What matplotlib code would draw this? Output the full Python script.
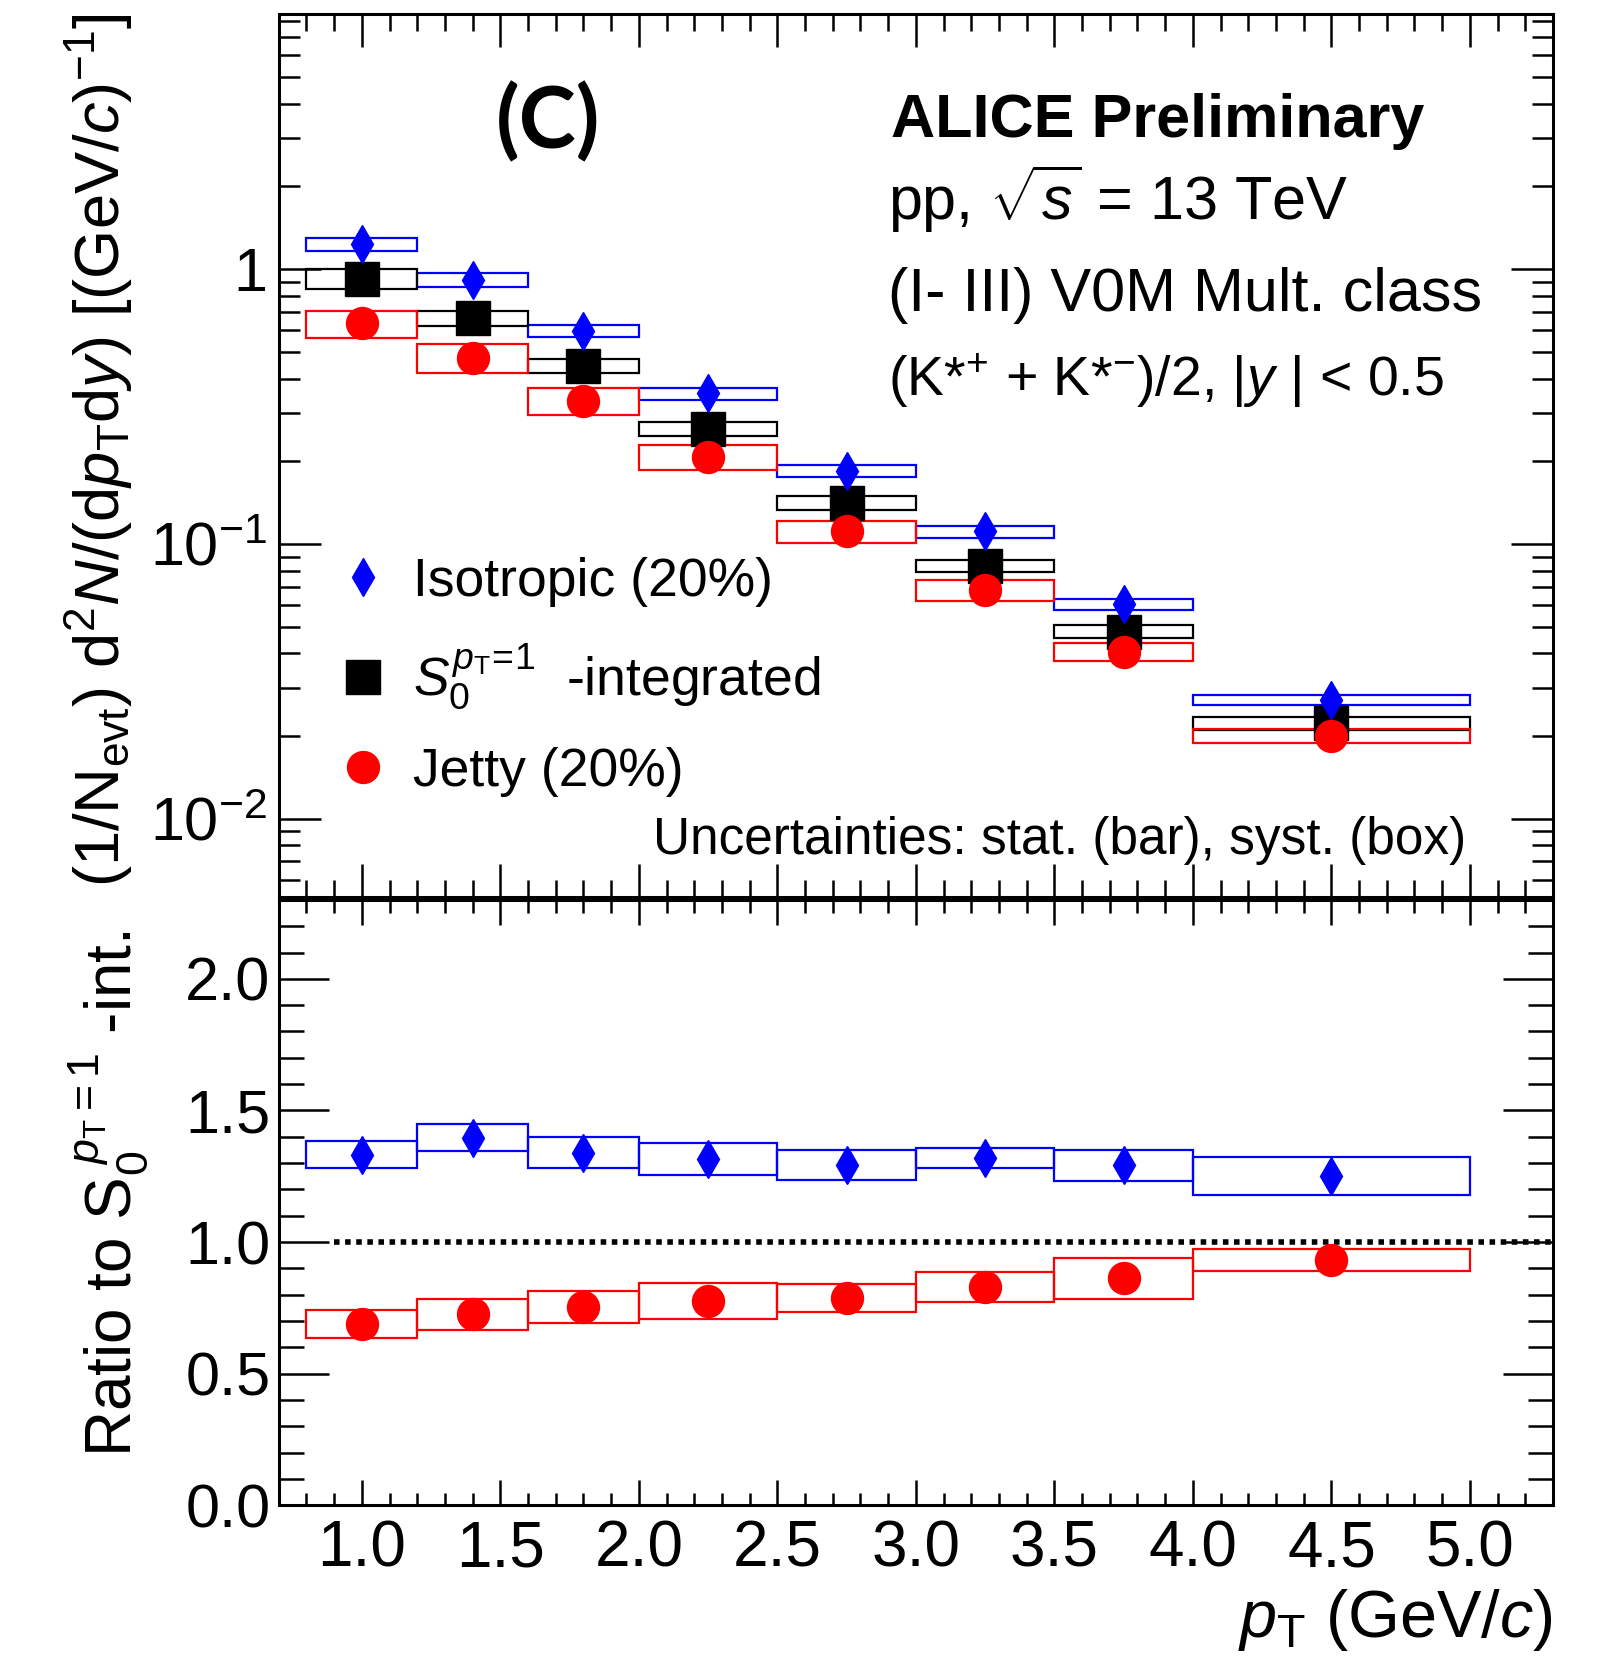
import numpy as np
import matplotlib.pyplot as plt
from matplotlib.ticker import MultipleLocator, FixedLocator, FixedFormatter, LogLocator, NullFormatter, FormatStrFormatter

plt.rcParams['font.family'] = ['Liberation Sans', 'DejaVu Sans']
plt.rcParams['mathtext.fontset'] = 'custom'
plt.rcParams['mathtext.rm'] = 'Liberation Sans'
plt.rcParams['mathtext.it'] = 'Liberation Sans:italic'
plt.rcParams['mathtext.bf'] = 'Liberation Sans:bold'

# pT bins (GeV/c)
pt = [1.0, 1.4, 1.8, 2.25, 2.75, 3.25, 3.75, 4.5]
pt_lo = [0.8, 1.2, 1.6, 2.0, 2.5, 3.0, 3.5, 4.0]
pt_hi = [1.2, 1.6, 2.0, 2.5, 3.0, 3.5, 4.0, 5.0]

# spectra, systematic uncertainties are relative
iso = [1.23, 0.915, 0.597, 0.353, 0.184, 0.111, 0.0604, 0.0271]
iso_sys = [0.055, 0.055, 0.05, 0.05, 0.05, 0.05, 0.045, 0.04]
integ = [0.923, 0.664, 0.445, 0.263, 0.141, 0.0833, 0.048, 0.0223]
integ_sys = [0.083, 0.064, 0.06, 0.06, 0.06, 0.05, 0.055, 0.055]
jetty = [0.635, 0.477, 0.331, 0.207, 0.111, 0.0679, 0.0405, 0.020]
jetty_sys = [0.113, 0.118, 0.113, 0.103, 0.093, 0.088, 0.078, 0.06]

# ratios to S0-integrated, systematic uncertainties are absolute
iso_ratio = [1.332, 1.397, 1.340, 1.316, 1.291, 1.320, 1.291, 1.251]
iso_ratio_sys = [0.051, 0.050, 0.059, 0.060, 0.057, 0.039, 0.060, 0.073]
jetty_ratio = [0.688, 0.725, 0.753, 0.777, 0.789, 0.830, 0.862, 0.931]
jetty_ratio_sys = [0.053, 0.059, 0.059, 0.069, 0.053, 0.057, 0.077, 0.043]

spec_yticks = [0.01, 0.1, 1]
spec_yticklabels = ['$10^{-2}$', '$10^{-1}$', '1']

BLUE = '#0000ff'
RED = '#ff0000'

lo = np.array(pt_lo)
hi = np.array(pt_hi)
bin_c = (lo + hi) / 2
bin_w = hi - lo

fig = plt.figure(figsize=(16.03, 16.68), dpi=100)
ax1 = fig.add_axes([0.1739, 0.4624, 0.7949, 0.5293])
ax2 = fig.add_axes([0.1739, 0.0976, 0.7949, 0.3629], sharex=ax1)

# ---- upper panel: spectra
for vals, rel, col in [(iso, iso_sys, BLUE), (integ, integ_sys, 'black'), (jetty, jetty_sys, RED)]:
    v = np.array(vals)
    r = np.array(rel)
    ax1.bar(bin_c, v * 2 * r, width=bin_w, bottom=v * (1 - r), fill=False,
            edgecolor=col, linewidth=1.6, zorder=2)

ax1.plot(pt, iso, ls='none', marker='d', ms=19.5, color=BLUE, mec=BLUE,
         label='Isotropic (20%)', zorder=4)
ax1.plot(pt, integ, ls='none', marker='s', ms=24, color='black',
         label=r'$S_{0}^{p_{\rm T}\!=\!1}$  -integrated', zorder=3)
ax1.plot(pt, jetty, ls='none', marker='o', ms=23, color=RED, mec=RED,
         label='Jetty (20%)', zorder=4)

ax1.set_yscale('log')
ax1.set_ylim(0.0052, 8.5)
ax1.set_xlim(0.7, 5.3)
ax1.yaxis.set_major_locator(FixedLocator(spec_yticks))
ax1.yaxis.set_major_formatter(FixedFormatter(spec_yticklabels))
ax1.yaxis.set_minor_locator(LogLocator(base=10, subs=np.arange(2, 10)))
ax1.yaxis.set_minor_formatter(NullFormatter())
ax1.xaxis.set_major_locator(MultipleLocator(0.5))
ax1.xaxis.set_minor_locator(MultipleLocator(0.1))
ax1.tick_params(axis='x', labelbottom=False)
ax1.tick_params(which='both', direction='in', top=True, right=True, width=1.8)
ax1.tick_params(axis='y', which='major', length=30, labelsize=44, pad=8)
ax1.tick_params(axis='y', which='minor', length=15)
ax1.tick_params(axis='x', which='major', length=24)
ax1.tick_params(axis='x', which='minor', length=12)

ax1.set_ylabel(r'(1/N$_{\rm evt}$) d$^{2}$$N$/(d$p_{\rm T}$d$y$) [(GeV/$c$)$^{-1}$]',
               fontsize=45.5, loc='top')
ax1.yaxis.set_label_coords(-0.113, 1.0)

ax1.legend(loc='upper left', bbox_to_anchor=(0.028, 0.415), frameon=False, fontsize=38.5,
           handlelength=0.8, handletextpad=0.55, labelspacing=0.65, borderpad=0)

ax1.text(0.342, 0.9267, '(C)', transform=fig.transFigure, fontsize=62,
         fontweight='bold', family=['Lato', 'DejaVu Sans'], ha='center', va='center')
ax1.text(0.556, 0.918, 'ALICE Preliminary', transform=fig.transFigure, fontsize=44,
         fontweight='bold', ha='left', va='baseline')
ax1.text(0.554, 0.868, r'pp, $\sqrt{s}$ = 13 TeV', transform=fig.transFigure,
         fontsize=44, ha='left', va='baseline')
ax1.text(0.554, 0.8138, '(I- III) V0M Mult. class', transform=fig.transFigure,
         fontsize=44, ha='left', va='baseline')
ax1.text(0.554, 0.7628, r'(K*$^{+}$ + K*$^{-}$)/2, |$y$ | < 0.5', transform=fig.transFigure,
         fontsize=40, ha='left', va='baseline')
ax1.text(0.9144, 0.4879, 'Uncertainties: stat. (bar), syst. (box)', transform=fig.transFigure,
         fontsize=37, ha='right', va='baseline')

# ---- lower panel: ratios
for vals, err, col in [(iso_ratio, iso_ratio_sys, BLUE), (jetty_ratio, jetty_ratio_sys, RED)]:
    v = np.array(vals)
    e = np.array(err)
    ax2.bar(bin_c, 2 * e, width=bin_w, bottom=v - e, fill=False,
            edgecolor=col, linewidth=1.6, zorder=2)

ax2.plot(pt, iso_ratio, ls='none', marker='d', ms=19.5, color=BLUE, zorder=4)
ax2.plot(pt, jetty_ratio, ls='none', marker='o', ms=23, color=RED, zorder=4)
ax2.hlines(1.0, 0.9, 5.3, colors='black', linestyles=(0, (1.0, 1.0)), linewidth=4, zorder=3)

ax2.set_ylim(0, 2.3)
ax2.xaxis.set_major_locator(MultipleLocator(0.5))
ax2.xaxis.set_minor_locator(MultipleLocator(0.1))
ax2.yaxis.set_major_locator(MultipleLocator(0.5))
ax2.yaxis.set_minor_locator(MultipleLocator(0.1))
ax2.xaxis.set_major_formatter(FormatStrFormatter('%.1f'))
ax2.yaxis.set_major_formatter(FormatStrFormatter('%.1f'))
ax2.tick_params(which='both', direction='in', top=True, right=True, width=1.8)
ax2.tick_params(axis='x', which='major', length=18, labelsize=46, pad=10)
ax2.tick_params(axis='x', which='minor', length=9)
ax2.tick_params(axis='y', which='major', length=36, labelsize=44, pad=6)
ax2.tick_params(axis='y', which='minor', length=18)

ax2.set_xlabel(r'$p_{\rm T}$ (GeV/$c$)', fontsize=48, loc='right')
ax2.xaxis.set_label_coords(1.0, -0.135)
ax2.set_ylabel(r'Ratio to $\mathrm{S}_{0}^{\ p_{\rm T}=1}$ -int.', fontsize=46)
ax2.yaxis.set_label_coords(-0.1, 0.515)

for ax in (ax1, ax2):
    for s in ax.spines.values():
        s.set_linewidth(2.2)

fig.savefig('out.png', dpi=100)
